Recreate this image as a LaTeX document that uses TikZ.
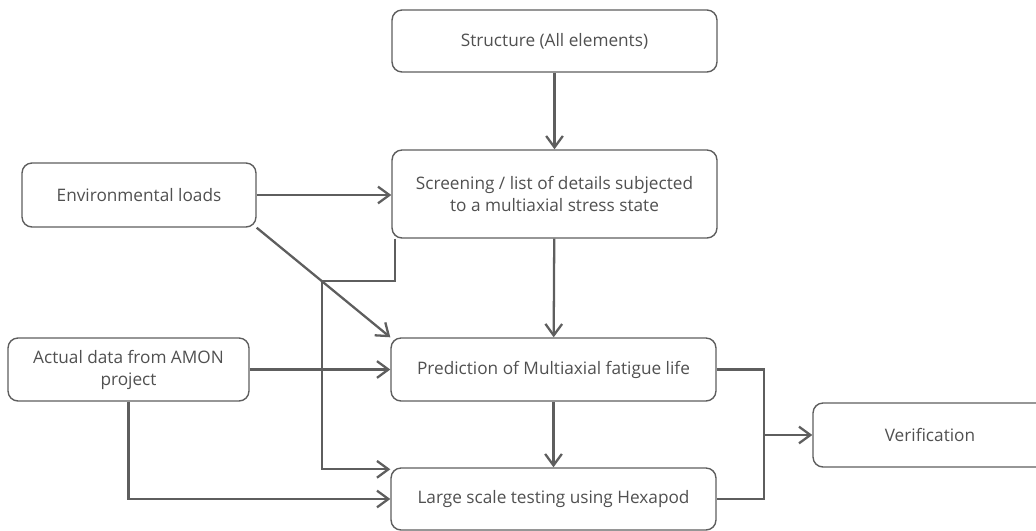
\documentclass[tikz,border=0pt]{standalone}
\usepackage{fontspec}
\setmainfont{Open Sans}
\usepackage{tikz}
\usetikzlibrary{arrows.meta,calc,positioning}
\definecolor{linegray}{HTML}{5E5E5E}
\definecolor{textgray}{HTML}{505050}

\begin{document}
\begin{tikzpicture}[x=0.02cm,y=-0.02cm,
	every node/.style={draw=linegray,line width=0.8pt,rounded corners=0.2cm,text=textgray,font=\fontsize{9.8}{12.5}\selectfont,align=center,inner sep=0pt},
	flow/.style={draw=linegray,line width=1.3pt,line join=miter,-{Straight Barb[length=6.5pt,width=9.5pt]}}]
	\useasboundingbox (0,0) rectangle (1036,531);

	\node (struct) at (554.5,41) [minimum width=6.5cm,minimum height=1.24cm] {Structure (All elements)};
	\node (screen) at (554.5,194) [minimum width=6.5cm,minimum height=1.76cm] {Screening / list of details subjected\\to a multiaxial stress state};
	\node (env) at (139,195) [minimum width=4.68cm,minimum height=1.28cm] {Environmental loads};
	\node (actual) at (128.5,369.5) [minimum width=4.82cm,minimum height=1.26cm] {Actual data from AMON\\project};
	\node (predict) at (553.5,369.5) [minimum width=6.5cm,minimum height=1.26cm] {Prediction of Multiaxial fatigue life};
	\node (large) at (553.5,499) [minimum width=6.5cm,minimum height=1.24cm] {Large scale testing using Hexapod};
	\node (verif) at (930,435) [minimum width=4.68cm,minimum height=1.28cm] {Verification};

	\coordinate (bend) at (322,281);
	\coordinate (join) at (764,435);

	\draw[flow] (struct) -- (screen);
	\draw[flow] (env.east) -- (env.east -| screen.west);
	\draw[flow] (env.south east) -- (predict.north west);
	\draw[flow] ([xshift=0.08cm]screen.south west) |- (bend) |- ([yshift=-0.04cm]large.north west);
	\draw[flow] (screen) -- (predict);
	\draw[flow] (actual.east) -- (actual.east -| predict.west);
	\draw[flow] (actual.south) |- (large.west);
	\draw[flow] (predict) -- (large);
	\draw[flow,-] (predict.east) -| (join) |- (large.east);
	\draw[flow] (join) -- (verif.west);
\end{tikzpicture}
\end{document}
